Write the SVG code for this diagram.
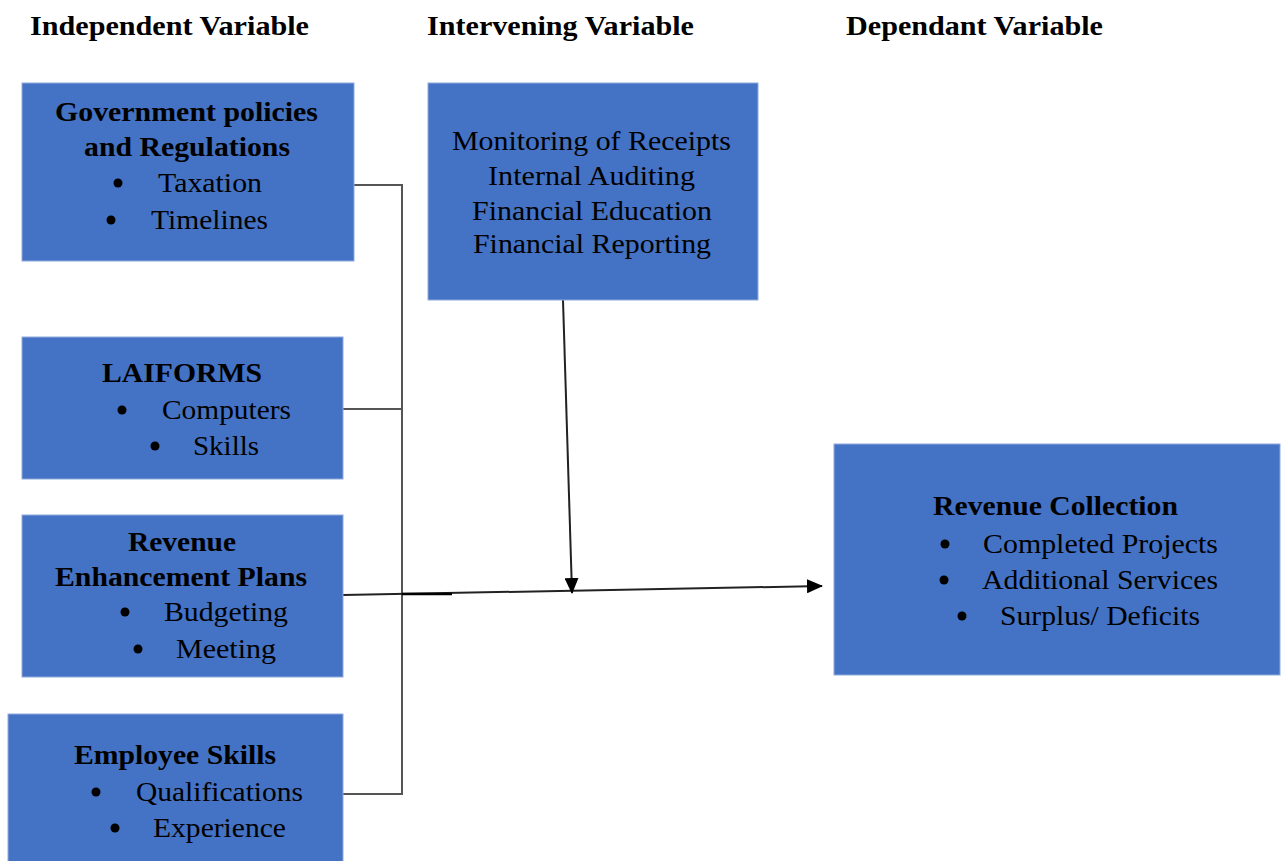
<svg xmlns="http://www.w3.org/2000/svg" width="1282" height="861" viewBox="0 0 1282 861">
<style>
.box{fill:#4472C4;stroke:#8FAADC;stroke-width:1}
text{font-family:"Liberation Serif","Times New Roman",serif;font-size:27px;fill:#000}
.b{font-weight:bold}
.h{font-weight:bold;font-size:27px}
.ln{stroke:#555;stroke-width:2;fill:none}
.ar{stroke:#222;stroke-width:2;fill:none}
.dot{fill:#000}
</style>
<defs>
<marker id="arr2" markerWidth="16" markerHeight="14" refX="15" refY="7" orient="auto" markerUnits="userSpaceOnUse" viewBox="0 0 16 14">
<path d="M0,0 L16,7 L0,14 z" fill="#000"/>
</marker>
</defs>
<rect width="1282" height="861" fill="#fff"/>
<g id="headers">
<text class="h" x="30" y="35" textLength="279" lengthAdjust="spacingAndGlyphs">Independent Variable</text>
<text class="h" x="427" y="35" textLength="267" lengthAdjust="spacingAndGlyphs">Intervening Variable</text>
<text class="h" x="846" y="35" textLength="257" lengthAdjust="spacingAndGlyphs">Dependant Variable</text>
</g>
<g id="connectors">
<polyline class="ln" points="354,185 402,185 402,794 343,794"/>
<line class="ln" x1="343" y1="409" x2="402" y2="409"/>
<line class="ar" x1="343" y1="595" x2="822" y2="586" marker-end="url(#arr2)"/>
<line x1="402" y1="594" x2="452" y2="594" stroke="#000" stroke-width="2.5"/>
<line class="ar" x1="563" y1="300" x2="572" y2="593" marker-end="url(#arr2)"/>
</g>
<g id="gov">
<rect class="box" x="22" y="83" width="332" height="178"/>
<text class="b" x="55" y="121" textLength="263" lengthAdjust="spacingAndGlyphs">Government policies</text>
<text class="b" x="84" y="156" textLength="206" lengthAdjust="spacingAndGlyphs">and Regulations</text>
<circle class="dot" cx="118" cy="183" r="4.5"/><text x="158" y="192" textLength="104" lengthAdjust="spacingAndGlyphs">Taxation</text>
<circle class="dot" cx="111" cy="220" r="4.5"/><text x="151" y="229" textLength="117" lengthAdjust="spacingAndGlyphs">Timelines</text>
</g>
<g id="laiforms">
<rect class="box" x="22" y="337" width="321" height="142"/>
<text class="b" x="102" y="382" textLength="160" lengthAdjust="spacingAndGlyphs">LAIFORMS</text>
<circle class="dot" cx="122" cy="410" r="4.5"/><text x="162" y="419" textLength="129" lengthAdjust="spacingAndGlyphs">Computers</text>
<circle class="dot" cx="155" cy="446" r="4.5"/><text x="193" y="455" textLength="66" lengthAdjust="spacingAndGlyphs">Skills</text>
</g>
<g id="revenue-enhancement">
<rect class="box" x="22" y="515" width="321" height="162"/>
<text class="b" x="128" y="551" textLength="108" lengthAdjust="spacingAndGlyphs">Revenue</text>
<text class="b" x="55" y="586" textLength="252" lengthAdjust="spacingAndGlyphs">Enhancement Plans</text>
<circle class="dot" cx="125" cy="612" r="4.5"/><text x="164" y="621" textLength="124" lengthAdjust="spacingAndGlyphs">Budgeting</text>
<circle class="dot" cx="138" cy="649" r="4.5"/><text x="176" y="658" textLength="100" lengthAdjust="spacingAndGlyphs">Meeting</text>
</g>
<g id="employee-skills">
<rect class="box" x="8" y="714" width="335" height="150"/>
<text class="b" x="74" y="764" textLength="202" lengthAdjust="spacingAndGlyphs">Employee Skills</text>
<circle class="dot" cx="96" cy="792" r="4.5"/><text x="136" y="801" textLength="167" lengthAdjust="spacingAndGlyphs">Qualifications</text>
<circle class="dot" cx="115" cy="828" r="4.5"/><text x="153" y="837" textLength="133" lengthAdjust="spacingAndGlyphs">Experience</text>
</g>
<g id="intervening">
<rect class="box" x="428" y="83" width="330" height="217"/>
<text x="452" y="150" textLength="279" lengthAdjust="spacingAndGlyphs">Monitoring of Receipts</text>
<text x="488" y="185" textLength="207" lengthAdjust="spacingAndGlyphs">Internal Auditing</text>
<text x="472" y="220" textLength="240" lengthAdjust="spacingAndGlyphs">Financial Education</text>
<text x="473" y="253" textLength="238" lengthAdjust="spacingAndGlyphs">Financial Reporting</text>
</g>
<g id="revenue-collection">
<rect class="box" x="834" y="444" width="446" height="231"/>
<text class="b" x="933" y="515" textLength="245" lengthAdjust="spacingAndGlyphs">Revenue Collection</text>
<circle class="dot" cx="945" cy="544" r="4.5"/><text x="983" y="553" textLength="235" lengthAdjust="spacingAndGlyphs">Completed Projects</text>
<circle class="dot" cx="944" cy="580" r="4.5"/><text x="982" y="589" textLength="236" lengthAdjust="spacingAndGlyphs">Additional Services</text>
<circle class="dot" cx="962" cy="616" r="4.5"/><text x="1000" y="625" textLength="200" lengthAdjust="spacingAndGlyphs">Surplus/ Deficits</text>
</g>
</svg>
